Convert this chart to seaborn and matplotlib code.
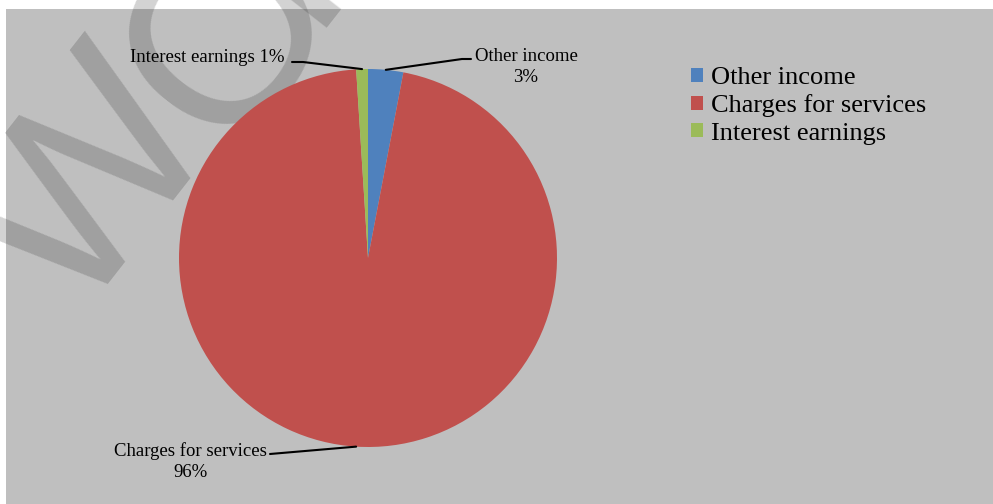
import matplotlib
matplotlib.use("Agg")
import matplotlib.pyplot as plt
import seaborn as sns
import numpy as np
from matplotlib.patches import Rectangle, Patch
from matplotlib.font_manager import FontProperties

categories = ["Other income", "Charges for services", "Interest earnings"]
values = [3, 96, 1]
pct_labels = ["3%", "96%", "1%"]

sns.set_theme(style="white")
plt.rcParams['font.family'] = ['Liberation Serif', 'DejaVu Serif']
plt.rcParams['text.color'] = 'black'

colors = ["#4F81BD", "#C0504D", "#9BBB59"]
sns.set_palette(colors)
pal = sns.color_palette()

W, H = 993, 504
fig = plt.figure(figsize=(W / 100, H / 100), dpi=100)
fig.patch.set_facecolor("white")

# grey chart panel
fig.patches.append(Rectangle((6 / W, 0), 1 - 6 / W, 1 - 9 / H, transform=fig.transFigure,
                             facecolor="#BFBFBF", edgecolor="none", zorder=0))

# watermark, letter by letter
wm_fp = FontProperties(family="Liberation Sans", size=182)
ang = 52


def wm(s, px, py):
    fig.text(px / W, 1 - py / H, s, fontproperties=wm_fp,
             color="#232323", alpha=0.2, rotation=ang, rotation_mode="anchor",
             ha="left", va="baseline", zorder=0.5)


wm("W", 76, 324)
wm("O", 225, 155)
wm("RD", 306, 28)

cx, cy, r = 368, 258, 189
ax = fig.add_axes([(cx - r) / W, (H - cy - r) / H, 2 * r / W, 2 * r / H])
ax.set_zorder(1)
ax.patch.set_alpha(0)
wedges, _ = ax.pie(values, colors=pal, startangle=90, counterclock=False,
                   wedgeprops=dict(linewidth=0))
ax.set_xlim(-1, 1)
ax.set_ylim(-1, 1)
ax.axis("off")


def px2d(px, py):
    return ((px - cx) / r, (cy - py) / r)


def mid_point(w):
    a = np.deg2rad((w.theta1 + w.theta2) / 2)
    return np.cos(a), np.sin(a)


lw = 1.5
fs = 13.5
# Other income
x0, y0 = mid_point(wedges[0])
p1 = px2d(462, 59); p2 = px2d(471, 59)
ax.plot([x0, p1[0], p2[0]], [y0, p1[1], p2[1]], color="black", lw=lw, clip_on=False)
t = px2d(526, 67)
ax.text(t[0], t[1], f"{categories[0]}\n{pct_labels[0]}", ha="center", va="center",
        fontsize=fs, linespacing=1.3)

# Interest earnings
x0, y0 = mid_point(wedges[2])
p1 = px2d(303, 62); p2 = px2d(292, 62)
ax.plot([x0, p1[0], p2[0]], [y0, p1[1], p2[1]], color="black", lw=lw, clip_on=False)
t = px2d(285, 58)
ax.text(t[0], t[1], f"{categories[2]} {pct_labels[2]}", ha="right", va="center",
        fontsize=fs)

# Charges for services
x0, y0 = mid_point(wedges[1])
p1 = px2d(270, 454)
ax.plot([x0, p1[0]], [y0, p1[1]], color="black", lw=lw, clip_on=False)
t = px2d(190, 462)
ax.text(t[0], t[1], f"{categories[1]}\n{pct_labels[1]}", ha="center", va="center",
        fontsize=fs, linespacing=1.3)

handles = [Patch(facecolor=c, edgecolor="none") for c in pal]
leg = fig.legend(handles, categories, loc="upper left",
                 bbox_to_anchor=(691 / W, 1 - 67 / H), frameon=False,
                 fontsize=19, handlelength=0.45, handleheight=0.45,
                 handletextpad=0.3, labelspacing=0.2, borderpad=0, borderaxespad=0)
leg.set_zorder(5)

fig.savefig("out.png", dpi=100)
